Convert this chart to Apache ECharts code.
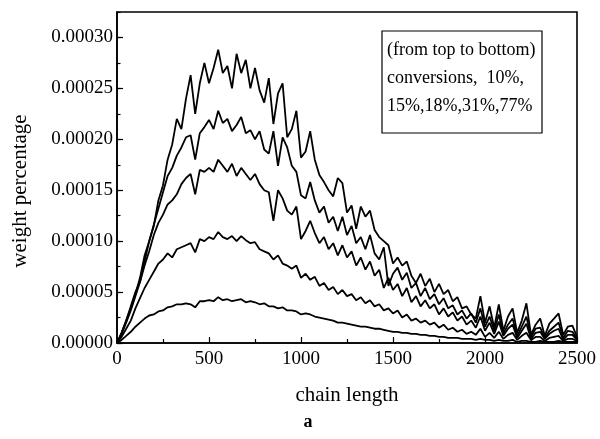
<!DOCTYPE html>
<html>
<head>
<meta charset="utf-8">
<script src="https://cdn.jsdelivr.net/npm/echarts@6/dist/echarts.min.js"></script>
<style>
html,body{margin:0;padding:0;background:#fff;}
#chart{width:600px;height:439px;}
</style>
</head>
<body>
<div id="chart"></div>
<script>
// chain length grid (x values)
var chainLength = [0,25,50,75,100,125,150,175,200,225,250,275,300,325,350,375,400,425,450,475,500,525,550,575,600,625,650,675,700,725,750,775,800,825,850,875,900,925,950,975,1000,1025,1050,1075,1100,1125,1150,1175,1200,1225,1250,1275,1300,1325,1350,1375,1400,1425,1450,1475,1500,1525,1550,1575,1600,1625,1650,1675,1700,1725,1750,1775,1800,1825,1850,1875,1900,1925,1950,1975,2000,2025,2050,2075,2100,2125,2150,2175,2200,2225,2250,2275,2300,2325,2350,2375,2400,2425,2450,2475,2500];

// weight percentage, in units of 1e-5
var conv10 = [0,1.0,2.2,3.6,5.0,6.0,8.0,10.0,11.5,14.0,
  15.5,18.0,19.5,22.0,21.0,24.0,26.3,22.5,25.5,27.5,
  25.5,27.0,28.8,26.5,27.2,25.0,28.4,26.5,27.8,25.0,
  27.0,24.8,23.6,26.0,21.5,24.5,25.5,20.2,21.0,22.8,
  18.2,18.8,20.8,18.0,16.5,15.8,15.0,14.4,16.2,15.7,
  12.8,13.5,11.2,13.4,12.4,13.0,11.1,10.4,10.0,9.6,
  7.8,8.4,7.6,8.0,6.6,5.9,6.8,5.6,6.3,5.0,
  5.8,4.8,5.2,4.1,4.5,3.4,3.6,2.8,2.4,4.6,
  2.0,3.6,1.5,3.8,1.2,2.6,3.4,1.0,2.2,3.9,
  0.8,1.8,2.4,0.7,1.9,2.4,2.9,0.8,1.6,1.7,
  0.6];
var conv15 = [0,1.0,2.2,3.4,4.8,6.4,8.6,10.0,11.6,13.2,
  14.8,16.4,17.2,18.4,19.2,20.2,20.4,18.0,20.6,21.2,
  21.9,21.0,22.8,21.6,22.0,20.8,21.4,22.2,20.6,20.9,
  20.0,20.8,19.0,18.6,20.8,17.4,20.2,19.2,17.4,16.8,
  14.5,14.2,15.8,14.0,12.8,13.4,11.8,12.4,11.0,12.4,
  10.6,11.5,9.8,10.4,9.2,10.6,8.8,8.2,9.4,5.6,
  6.8,7.4,6.2,6.9,5.4,5.9,4.6,5.4,4.3,4.8,
  3.8,4.4,3.4,3.7,2.8,3.2,2.4,2.9,2.0,3.4,
  1.6,2.6,1.2,2.8,0.9,1.8,2.4,0.7,1.6,2.6,
  0.6,1.4,1.5,0.5,1.2,1.6,2.0,0.5,1.2,1.1,
  0.4];
var conv18 = [0,0.9,2.0,3.2,4.6,6.0,7.6,9.0,10.6,11.8,
  12.6,13.6,14.0,14.6,15.6,16.2,16.6,14.6,17.0,16.8,
  17.2,16.8,18.0,17.4,16.8,17.6,16.4,17.2,16.6,16.0,
  16.6,15.6,15.0,14.8,12.0,15.0,14.2,13.0,12.6,13.4,
  10.2,11.0,12.0,10.8,9.8,10.4,9.2,9.8,8.6,9.6,
  8.4,9.0,7.6,8.4,7.2,8.0,6.6,7.2,5.4,6.4,
  5.2,5.8,4.6,5.4,4.0,4.6,3.6,4.2,3.4,3.8,
  2.8,3.4,2.6,3.0,2.2,2.6,1.8,2.2,1.5,2.6,
  1.2,2.0,0.9,2.1,0.7,1.4,1.8,0.5,1.2,1.9,
  0.4,1.0,1.1,0.4,0.9,1.2,1.4,0.3,0.8,0.8,
  0.3];
var conv31 = [0,0.6,1.4,2.2,3.4,4.4,5.4,6.2,7.0,7.8,
  8.2,8.8,8.4,9.2,9.4,9.6,9.8,8.9,10.2,10.0,
  10.4,10.2,10.9,10.4,10.2,10.5,10.0,10.5,10.1,9.8,
  9.9,9.2,9.0,8.8,8.2,8.6,7.8,7.6,7.3,7.6,
  6.4,6.8,6.2,6.5,5.6,5.9,5.2,5.5,4.8,5.2,
  4.6,4.8,4.2,4.5,3.9,4.2,3.6,3.8,3.2,3.4,
  2.9,3.2,2.5,2.8,2.2,2.4,2.0,2.2,1.8,2.0,
  1.5,1.8,1.3,1.5,1.1,1.3,0.9,1.1,0.8,1.4,
  0.6,1.0,0.5,1.1,0.4,0.8,1.0,0.3,0.7,1.0,
  0.3,0.6,0.6,0.2,0.5,0.6,0.7,0.2,0.4,0.4,
  0.2];
var conv77 = [0,0.3,0.7,1.1,1.6,2.0,2.4,2.7,2.8,3.1,
  3.2,3.5,3.6,3.8,3.8,3.9,3.8,3.5,4.1,4.1,
  4.2,4.1,4.5,4.2,4.3,4.1,4.2,4.3,4.0,4.1,
  4.0,3.8,3.9,3.6,3.6,3.4,3.5,3.2,3.2,3.1,
  2.8,2.9,2.8,2.6,2.5,2.4,2.3,2.2,2.0,2.0,
  1.9,1.8,1.7,1.6,1.6,1.5,1.4,1.4,1.3,1.2,
  1.1,1.1,1.0,1.0,0.9,0.9,0.8,0.8,0.7,0.7,
  0.6,0.6,0.5,0.5,0.5,0.4,0.4,0.4,0.3,0.4,
  0.3,0.3,0.2,0.3,0.2,0.2,0.3,0.1,0.2,0.2,
  0.1,0.1,0.2,0.1,0.1,0.1,0.2,0.1,0.1,0.1,
  0.1];
var UNIT = 1e-5;

var legendLines = ['(from top to bottom)', 'conversions,  10%,', '15%,18%,31%,77%'];

var FONT = '"Liberation Serif", "DejaVu Serif", serif';

function toPairs(arr) {
  return chainLength.map(function (x, i) { return [x, arr[i] * UNIT]; });
}

var seriesList = [conv10, conv15, conv18, conv31, conv77].map(function (arr, k) {
  return {
    type: 'line',
    name: 's' + k,
    data: toPairs(arr),
    showSymbol: false,
    symbol: 'none',
    xAxisIndex: 0,
    yAxisIndex: 0,
    lineStyle: { color: '#000', width: 1.8 },
    silent: true,
    animation: false
  };
});

var chart = echarts.init(document.getElementById('chart'), null, { renderer: 'canvas', width: 600, height: 439 });

var option = {
  backgroundColor: '#fff',
  animation: false,
  grid: {
    left: 117, right: 23, top: 12, bottom: 96,
    show: true, borderColor: '#000', borderWidth: 1.6, backgroundColor: 'transparent'
  },
  xAxis: [{
    type: 'value', min: 0, max: 2500, interval: 500,
    axisLine: { show: true, lineStyle: { color: '#000', width: 1.6 } },
    axisTick: { show: true, inside: true, length: 6, lineStyle: { color: '#000', width: 1.2 } },
    minorTick: { show: true, splitNumber: 2, length: 4, lineStyle: { color: '#000', width: 1.2 } },
    splitLine: { show: false },
    axisLabel: {
      color: '#000', fontFamily: FONT, fontSize: 19, margin: 7,
      formatter: function (v) { return String(v); }
    }
  }],
  yAxis: [{
    type: 'value', min: 0, max: 0.000325, interval: 0.00005,
    axisLine: { show: true, lineStyle: { color: '#000', width: 1.6 } },
    axisTick: { show: true, inside: true, length: 6, lineStyle: { color: '#000', width: 1.2 } },
    splitLine: { show: false },
    axisLabel: {
      color: '#000', fontFamily: FONT, fontSize: 19, margin: 4, showMaxLabel: false,
      formatter: function (v) { return v.toFixed(5); }
    }
  }, {
    type: 'value', min: 0, max: 0.000325, interval: 0.000025, position: 'left',
    axisLine: { show: false },
    axisTick: { show: true, inside: true, length: 3.5, lineStyle: { color: '#000', width: 1.2 } },
    splitLine: { show: false },
    axisLabel: { show: false }
  }],
  series: seriesList,
  graphic: [
    {
      type: 'rect', shape: { x: 382, y: 31, width: 160, height: 102 },
      style: { fill: '#fff', stroke: '#000', lineWidth: 1.2 }, z: 100
    },
    {
      type: 'text', x: 387, y: 50, z: 101,
      style: { text: legendLines[0], fill: '#000', font: '18px ' + FONT, verticalAlign: 'middle' }
    },
    {
      type: 'text', x: 387, y: 78, z: 101,
      style: { text: legendLines[1], fill: '#000', font: '18px ' + FONT, verticalAlign: 'middle' }
    },
    {
      type: 'text', x: 387, y: 106, z: 101,
      style: { text: legendLines[2], fill: '#000', font: '18px ' + FONT, verticalAlign: 'middle' }
    },
    {
      type: 'text', x: 347, y: 395, z: 101,
      style: { text: 'chain length', fill: '#000', font: '21px ' + FONT, align: 'center', verticalAlign: 'middle' }
    },
    {
      type: 'text', x: 308, y: 422, z: 101,
      style: { text: 'a', fill: '#000', font: 'bold 18px ' + FONT, align: 'center', verticalAlign: 'middle' }
    },
    {
      type: 'text', x: 20, y: 191, rotation: Math.PI / 2, z: 101,
      style: { text: 'weight percentage', fill: '#000', font: '21px ' + FONT, align: 'center', verticalAlign: 'middle' }
    }
  ]
};
chart.setOption(option);
</script>
</body>
</html>
